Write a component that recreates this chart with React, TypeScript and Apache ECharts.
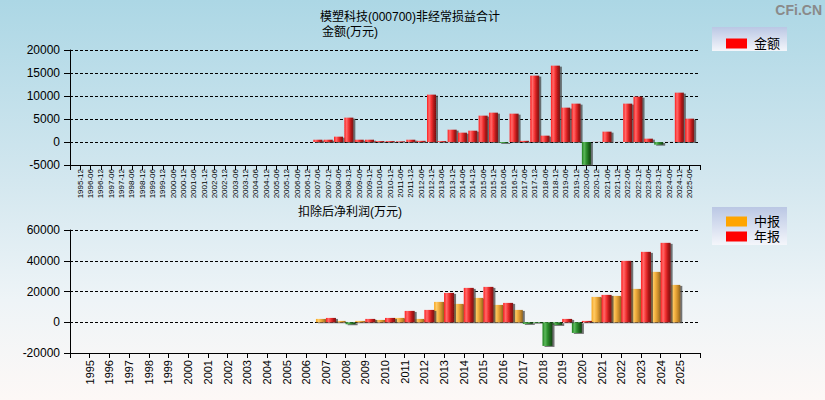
import React, { useEffect, useRef } from "react";
import * as echarts from "echarts";

const halfYearLabels = [
  "1995-12", "1996-06", "1996-12", "1997-06", "1997-12", "1998-06", "1998-12", "1999-06", "1999-12", "2000-06",
  "2000-12", "2001-06", "2001-12", "2002-06", "2002-12", "2003-06", "2003-12", "2004-06", "2004-12", "2005-06",
  "2005-12", "2006-06", "2006-12", "2007-06", "2007-12", "2008-06", "2008-12", "2009-06", "2009-12", "2010-06",
  "2010-12", "2011-06", "2011-12", "2012-06", "2012-12", "2013-06", "2013-12", "2014-06", "2014-12", "2015-06",
  "2015-12", "2016-06", "2016-12", "2017-06", "2017-12", "2018-06", "2018-12", "2019-06", "2019-12", "2020-06",
  "2020-12", "2021-06", "2021-12", "2022-06", "2022-12", "2023-06", "2023-12", "2024-06", "2024-12", "2025-06",
];

// 非经常损益合计 (万元)
const nonRecurring: (number | null)[] = [
  null, null, null, null, null, null, null, null, null, null,
  null, null, null, null, null, null, null, null, null, null,
  null, null, null, 500, 500, 1160, 5300, 500, 500, 200,
  200, 150, 500, 250, 10300, 200, 2680, 2030, 2460, 5730,
  6380, -200, 6160, 250, 14430, 1380, 16600, 7470, 8340, -4950,
  30, 2250, 20, 8340, 9860, 725, -580, 20, 10730, 5075,
];

const years = [
  "1995", "1996", "1997", "1998", "1999", "2000", "2001", "2002", "2003", "2004",
  "2005", "2006", "2007", "2008", "2009", "2010", "2011", "2012", "2013", "2014",
  "2015", "2016", "2017", "2018", "2019", "2020", "2021", "2022", "2023", "2024", "2025",
];

// 扣除后净利润 (万元)
const interimProfit: (number | null)[] = [
  null, null, null, null, null, null, null, null, null, null,
  null, null, 2170, 870, 870, 1520, 2820, 2170, 13240, 11940,
  15840, 11280, 8030, -430, -1740, -6940, 16490, 17140, 21700, 32770, 24300,
];
const annualProfit: (number | null)[] = [
  null, null, null, null, null, null, null, null, null, null,
  null, null, 2820, -1300, 2170, 2820, 7380, 8030, 19100, 22350,
  23000, 12590, -1085, -15400, 2170, 870, 17800, 39930, 45790, 51650, null,
];

const FONT = "'Liberation Sans', 'Noto Sans CJK SC', sans-serif";

function hGrad(stops: string[]) {
  return new echarts.graphic.LinearGradient(
    0, 0, 1, 0,
    stops.map((c, i) => ({ offset: i / (stops.length - 1), color: c }))
  );
}

const RED = () => hGrad(["#ff1c1c", "#ff6a6a", "#f23030", "#b01818", "#7a1010"]);
const ORANGE = () => hGrad(["#f6a51e", "#ffcb66", "#f0ad3c", "#c88a2a", "#8c6420"]);
const GREEN = () => hGrad(["#1c7f1c", "#5cb85c", "#2f902f", "#1d661d", "#124412"]);

function toItems(vals: (number | null)[], pos: () => any) {
  return vals.map((v) =>
    v == null ? null : v < 0 ? { value: v, itemStyle: { color: GREEN() } } : { value: v, itemStyle: { color: pos() } }
  );
}

const barShadow = {
  shadowColor: "rgba(70,70,70,0.75)",
  shadowOffsetX: 2,
  shadowOffsetY: 1,
  shadowBlur: 0,
};

export default function App() {
  const ref = useRef<HTMLDivElement>(null);

  useEffect(() => {
    if (!ref.current) return;
    const chart = echarts.init(ref.current, null, { renderer: "svg" });

    const axisCommon = {
      axisLine: { show: true, onZero: false, lineStyle: { color: "#000", width: 1 } },
      axisTick: { show: true, lineStyle: { color: "#000" } },
    };
    const plain = (v: number) => String(v);

    const option: any = {
      animation: false,
      backgroundColor: "transparent",
      textStyle: { fontFamily: FONT },
      grid: [
        { left: 70, right: 125, top: 50, height: 115 },
        { left: 70, right: 125, top: 230, height: 123 },
      ],
      xAxis: [
        {
          type: "category",
          gridIndex: 0,
          boundaryGap: false,
          data: ["", ...halfYearLabels, ""],
          ...axisCommon,
          axisTick: { show: true, interval: 0, length: 5, lineStyle: { color: "#000" } },
          axisLabel: { interval: 0, rotate: 90, fontSize: 8, margin: 4, color: "#000", fontFamily: FONT },
          splitLine: { show: false },
        },
        {
          type: "category",
          gridIndex: 1,
          boundaryGap: false,
          data: ["", ...years, ""],
          ...axisCommon,
          axisTick: { show: true, interval: 0, length: 5, lineStyle: { color: "#000" } },
          axisLabel: { interval: 0, rotate: 90, fontSize: 11, margin: 7, color: "#000", fontFamily: FONT },
          splitLine: { show: false },
        },
      ],
      yAxis: [
        {
          type: "value",
          gridIndex: 0,
          min: -5000,
          max: 20000,
          interval: 5000,
          ...axisCommon,
          axisTick: { show: true, length: 6, lineStyle: { color: "#000" } },
          axisLabel: { fontSize: 12, margin: 10, color: "#000", fontFamily: FONT, formatter: plain },
          splitLine: { show: true, lineStyle: { color: "#000", type: [3, 2], width: 1 } },
        },
        {
          type: "value",
          gridIndex: 1,
          min: -20000,
          max: 60000,
          interval: 20000,
          ...axisCommon,
          axisTick: { show: true, length: 6, lineStyle: { color: "#000" } },
          axisLabel: { fontSize: 12, margin: 10, color: "#000", fontFamily: FONT, formatter: plain },
          splitLine: { show: true, lineStyle: { color: "#000", type: [3, 2], width: 1 } },
        },
      ],
      legend: [
        {
          data: [{ name: "金额", itemStyle: { color: "#ff0000" } }],
          left: 721,
          top: 32,
          icon: "rect",
          itemWidth: 21,
          itemHeight: 10,
          itemGap: 4,
          selectedMode: false,
          z: 10,
          textStyle: { fontSize: 13, color: "#000", fontFamily: FONT, padding: [0, 0, 0, 2] },
        },
        {
          data: [
            { name: "中报", itemStyle: { color: "#ffa500" } },
            { name: "年报", itemStyle: { color: "#ff0000" } },
          ],
          orient: "vertical",
          left: 721,
          top: 210,
          icon: "rect",
          itemWidth: 21,
          itemHeight: 10,
          itemGap: 2,
          selectedMode: false,
          z: 10,
          textStyle: { fontSize: 13, color: "#000", fontFamily: FONT, padding: [0, 0, 0, 2] },
        },
      ],
      graphic: [
        {
          type: "rect",
          z: 1,
          shape: { x: 712, y: 27, width: 75, height: 24 },
          style: {
            fill: new echarts.graphic.LinearGradient(0, 0, 0, 1, [
              { offset: 0, color: "#bac7e4" },
              { offset: 1, color: "#f4f6fb" },
            ]),
          },
        },
        {
          type: "rect",
          z: 1,
          shape: { x: 712, y: 207, width: 75, height: 38 },
          style: {
            fill: new echarts.graphic.LinearGradient(0, 0, 0, 1, [
              { offset: 0, color: "#bac7e4" },
              { offset: 1, color: "#f4f6fb" },
            ]),
          },
        },
        {
          type: "text",
          x: 410,
          y: 17,
          style: { text: "模塑科技(000700)非经常损益合计", fill: "#000", fontSize: 12, fontFamily: FONT, align: "center", verticalAlign: "middle" },
        },
        {
          type: "text",
          x: 350,
          y: 32,
          style: { text: "金额(万元)", fill: "#000", fontSize: 12, fontFamily: FONT, align: "center", verticalAlign: "middle" },
        },
        {
          type: "text",
          x: 350,
          y: 212,
          style: { text: "扣除后净利润(万元)", fill: "#000", fontSize: 12, fontFamily: FONT, align: "center", verticalAlign: "middle" },
        },
        {
          type: "text",
          x: 822,
          y: 10,
          style: { text: "CFi.CN", fill: "#8a8a8a", fontSize: 14, fontWeight: "bold", fontFamily: FONT, align: "right", verticalAlign: "middle" },
        },
      ],
      series: [
        {
          name: "金额",
          type: "bar",
          xAxisIndex: 0,
          yAxisIndex: 0,
          barWidth: 9,
          data: [null, ...toItems(nonRecurring, RED), null],
          itemStyle: { color: RED(), ...barShadow },
        },
        {
          name: "中报",
          type: "bar",
          xAxisIndex: 1,
          yAxisIndex: 1,
          barWidth: 10,
          barGap: "0%",
          data: [null, ...toItems(interimProfit, ORANGE), null],
          itemStyle: { color: ORANGE(), ...barShadow },
        },
        {
          name: "年报",
          type: "bar",
          xAxisIndex: 1,
          yAxisIndex: 1,
          barWidth: 10,
          barGap: "0%",
          data: [null, ...toItems(annualProfit, RED), null],
          itemStyle: { color: RED(), ...barShadow },
        },
      ],
    };

    chart.setOption(option);
    return () => chart.dispose();
  }, []);

  return (
    <div
      ref={ref}
      style={{
        position: "fixed",
        left: 0,
        top: 0,
        width: 825,
        height: 400,
        background: "linear-gradient(to bottom, #acd7e5 0%, #d3e7ef 45%, #eef4f7 75%, #fdf8f6 100%)",
      }}
    />
  );
}
